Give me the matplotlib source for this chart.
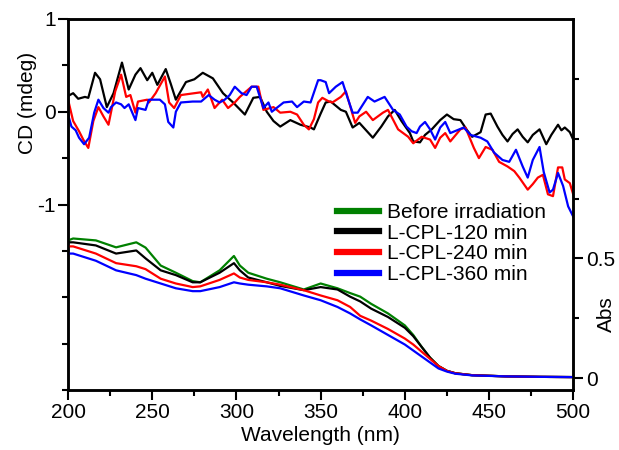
import numpy as np
import matplotlib
matplotlib.use("Agg")
import matplotlib.pyplot as plt
from matplotlib.ticker import MultipleLocator, FixedLocator

plt.rcParams["font.family"] = ["Liberation Sans", "DejaVu Sans"]
plt.rcParams["axes.unicode_minus"] = False

# CD spectra (mdeg)
cd_black_nm = [200, 203, 206, 210, 212, 216, 219, 223, 227, 232, 236, 240, 243, 247, 250, 253, 258, 261,
               264, 270, 275, 280, 286, 292, 298, 305, 310, 314, 318, 322, 326, 332, 338, 344, 346, 350,
               353, 356, 362, 365, 369, 373, 377, 381, 386, 390, 394, 398, 403, 405, 409, 412, 416, 421,
               425, 429, 433, 437, 440, 445, 448, 451, 455, 458, 461, 464, 467, 470, 473, 476, 480, 484,
               487, 491, 493, 495, 498, 500]
cd_black = [0.17, 0.2, 0.14, 0.16, 0.15, 0.42, 0.35, 0.05, 0.2, 0.53, 0.24, 0.4, 0.47, 0.34, 0.42, 0.29,
            0.46, 0.3, 0.13, 0.32, 0.35, 0.42, 0.36, 0.2, 0.1, -0.03, 0.15, 0.16, 0.0, -0.1, -0.16, -0.09,
            -0.14, -0.17, -0.19, -0.02, 0.1, 0.11, 0.02, 0.0, -0.17, -0.12, -0.2, -0.28, -0.16, -0.05,
            0.02, -0.1, -0.23, -0.32, -0.33, -0.25, -0.19, -0.09, -0.03, -0.08, -0.09, -0.2, -0.27, -0.22,
            -0.03, -0.02, -0.16, -0.25, -0.32, -0.24, -0.19, -0.27, -0.33, -0.25, -0.19, -0.35, -0.25,
            -0.14, -0.2, -0.17, -0.22, -0.3]

cd_red_nm = [200, 203, 206.5, 209, 212, 215, 218, 221, 224, 228, 231.5, 234.5, 237, 240, 241.5, 247, 248,
             252, 257.5, 260, 263, 267, 275, 279, 280, 283, 287, 291.5, 295, 299, 302, 309, 313, 316, 322,
             326, 332, 336, 340, 343, 346, 348.5, 351, 355, 357, 362, 365, 369, 370.5, 373, 377, 381, 387,
             390, 396, 402, 405, 410, 415, 418, 421, 424, 427, 433, 436, 441, 444, 448, 452, 456, 461, 465,
             468, 473, 476, 479, 482, 485, 488, 491, 493.5, 495, 498, 500]
cd_red = [0.13, -0.1, -0.21, -0.3, -0.39, -0.1, 0.05, -0.05, -0.14, 0.22, 0.4, 0.16, 0.18, -0.01, 0.11,
          0.13, 0.1, 0.2, 0.38, 0.1, 0.04, 0.18, 0.2, 0.21, 0.16, 0.24, 0.04, 0.13, 0.04, 0.1, 0.16, 0.27,
          0.27, 0.02, 0.05, -0.01, 0.0, -0.03, -0.14, -0.19, -0.08, 0.1, 0.15, 0.11, 0.1, 0.16, 0.22, -0.03,
          -0.12, -0.05, 0.0, -0.09, -0.01, 0.02, -0.19, -0.27, -0.34, -0.27, -0.3, -0.39, -0.28, -0.23,
          -0.32, -0.19, -0.17, -0.39, -0.5, -0.38, -0.41, -0.54, -0.59, -0.64, -0.71, -0.84, -0.78, -0.71,
          -0.68, -0.89, -0.91, -0.6, -0.6, -0.73, -0.77, -0.89]

cd_blue_nm = [200, 202, 204.5, 206.5, 209.5, 212.5, 215.5, 218, 221, 224, 225.5, 228.5, 231.5, 233.5, 236,
              240, 241.5, 246, 248, 254.5, 257.5, 259.5, 262.5, 264, 267, 274, 279, 283.5, 287, 290, 293,
              296, 299, 303, 306, 309, 312, 316, 319, 321, 328, 333, 336, 340, 344, 348.5, 350, 353, 355,
              359, 363, 366, 369, 372, 378, 382, 388, 393, 397, 401, 404, 407, 409, 412, 415, 418, 421, 424,
              427, 431, 435, 439, 445, 449, 453, 458, 462, 466, 470, 473, 476, 480, 482.5, 486, 488, 491,
              494, 497, 500]
cd_blue = [-0.03, -0.16, -0.2, -0.28, -0.35, -0.28, -0.01, 0.13, 0.04, -0.01, 0.05, 0.1, 0.08, 0.04, 0.08,
           -0.09, 0.04, 0.02, 0.13, 0.13, 0.08, -0.11, -0.17, 0.0, 0.1, 0.11, 0.11, 0.18, 0.13, 0.1, 0.13,
           0.18, 0.27, 0.2, 0.18, 0.27, 0.27, 0.04, 0.1, 0.0, 0.1, 0.11, 0.05, 0.11, 0.1, 0.34, 0.34, 0.32,
           0.2, 0.27, 0.32, 0.15, -0.01, -0.01, 0.16, 0.11, 0.16, 0.02, -0.03, -0.16, -0.21, -0.23, -0.16,
           -0.11, -0.19, -0.3, -0.17, -0.11, -0.23, -0.2, -0.17, -0.25, -0.28, -0.32, -0.44, -0.52, -0.54,
           -0.41, -0.59, -0.71, -0.52, -0.38, -0.65, -0.87, -0.84, -0.66, -0.8, -1.02, -1.13]

# absorption spectra
abs_nm = [200, 203, 216.5, 228.5, 240.5, 246, 255, 264, 274, 278.5, 290, 298.5, 302, 307, 318, 326, 340,
          350, 360, 367.5, 373.5, 380, 390, 400, 405, 410, 415, 420, 425, 430, 440, 460, 480, 500]
abs_green = [0.575, 0.583, 0.575, 0.546, 0.567, 0.545, 0.47, 0.44, 0.405, 0.40, 0.45, 0.51, 0.47, 0.44,
             0.415, 0.40, 0.37, 0.395, 0.375, 0.355, 0.34, 0.31, 0.27, 0.22, 0.18, 0.13, 0.085, 0.05, 0.03,
             0.02, 0.012, 0.007, 0.005, 0.004]
abs_black = [0.567, 0.567, 0.554, 0.52, 0.533, 0.50, 0.45, 0.43, 0.40, 0.40, 0.44, 0.48, 0.45, 0.42,
             0.40, 0.385, 0.367, 0.38, 0.37, 0.34, 0.32, 0.29, 0.255, 0.21, 0.175, 0.13, 0.085, 0.05, 0.03,
             0.02, 0.012, 0.007, 0.005, 0.004]
abs_red = [0.55, 0.55, 0.52, 0.48, 0.467, 0.455, 0.415, 0.395, 0.38, 0.383, 0.41, 0.437, 0.42, 0.41,
           0.40, 0.39, 0.367, 0.345, 0.325, 0.297, 0.26, 0.24, 0.205, 0.165, 0.14, 0.11, 0.08, 0.05, 0.03,
           0.02, 0.012, 0.007, 0.005, 0.004]
abs_blue = [0.52, 0.52, 0.49, 0.45, 0.43, 0.415, 0.395, 0.375, 0.363, 0.363, 0.38, 0.40, 0.395, 0.39,
            0.383, 0.375, 0.345, 0.325, 0.297, 0.27, 0.245, 0.22, 0.18, 0.14, 0.115, 0.09, 0.065, 0.04,
            0.027, 0.018, 0.011, 0.007, 0.005, 0.004]

labels = ["Before irradiation", "L-CPL-120 min", "L-CPL-240 min", "L-CPL-360 min"]
green = "#008000"

fs = 15
fig = plt.figure(figsize=(6.19, 4.5), dpi=100)
ax = fig.add_axes([0.110, 0.1333, 0.816, 0.8245])
ax2 = ax.twinx()

ax.plot(cd_black_nm, cd_black, color="black", lw=1.6)
ax.plot(cd_red_nm, cd_red, color="red", lw=1.6)
ax.plot(cd_blue_nm, cd_blue, color="blue", lw=1.6)

lines = []
for vals, c, lab in zip([abs_green, abs_black, abs_red, abs_blue],
                        [green, "black", "red", "blue"], labels):
    ln, = ax2.plot(abs_nm, vals, color=c, lw=1.6, label=lab)
    lines.append(ln)

ax.set_xlim(200, 500)
ax.set_ylim(-3, 1)
ax2.set_ylim(-0.05, 1.5)

ax.xaxis.set_major_locator(MultipleLocator(50))
ax.xaxis.set_minor_locator(MultipleLocator(25))
ax.yaxis.set_major_locator(FixedLocator([-1, 0, 1]))
ax.yaxis.set_minor_locator(FixedLocator([-3, -2.5, -2, -1.5, -0.5, 0.5]))
ax2.yaxis.set_major_locator(FixedLocator([0, 0.5]))
ax2.yaxis.set_minor_locator(FixedLocator([0.25, 0.75, 1.0, 1.25]))
ax2.set_yticklabels(["0", "0.5"])

for a in (ax, ax2):
    for s in a.spines.values():
        s.set_linewidth(1.8)
    a.tick_params(which="major", direction="out", length=7, width=1.5, labelsize=fs, pad=2)
    a.tick_params(which="minor", direction="out", length=4, width=1.5)

ax.set_xlabel("Wavelength (nm)", fontsize=fs, labelpad=3)
ax.set_ylabel("CD (mdeg)", fontsize=fs)
ax2.set_ylabel("Abs", fontsize=fs)
ax.yaxis.set_label_coords(-0.062, 0.774)
ax2.yaxis.set_label_coords(1.047, 0.205)

leg = ax2.legend(handles=lines, loc="upper left", bbox_to_anchor=(0.533, 0.504),
                 frameon=False, fontsize=fs, handlelength=2.0, handletextpad=0.4,
                 labelspacing=0.08, borderpad=0, borderaxespad=0)
for h in leg.legend_handles:
    h.set_linewidth(4.5)

fig.savefig("out.png", dpi=100)
